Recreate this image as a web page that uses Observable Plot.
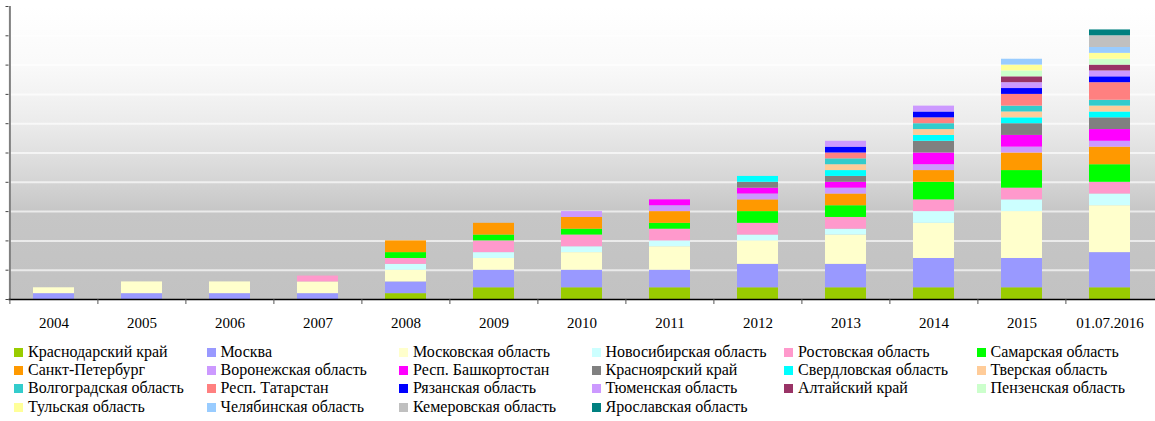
<!DOCTYPE html>
<html>
<head>
<meta charset="utf-8">
<script src="https://cdn.jsdelivr.net/npm/d3@7"></script>
<script src="https://cdn.jsdelivr.net/npm/@observablehq/plot@0.6"></script>
<style>
  html, body { margin: 0; padding: 0; background: #fff; }
  body { font-family: "Liberation Serif", "Times New Roman", serif; }
  #legend {
    width: 1155px;
    display: grid;
    grid-template-columns: repeat(6, 192.5px);
    grid-auto-rows: 18.4px;
    padding-top: 2.5px;
    box-sizing: border-box;
    font-size: 16px;
    line-height: 18.4px;
    color: #000;
  }
  .item { padding-left: 14px; white-space: nowrap; }
  .sw { display: inline-block; width: 9px; height: 9px; margin-right: 5px; }
</style>
</head>
<body>
<div id="chart"></div>
<div id="legend"></div>
<script>
// ---- data ----
const years = ["2004","2005","2006","2007","2008","2009","2010","2011","2012","2013","2014","2015","01.07.2016"];

const regions = [
  "Краснодарский край","Москва","Московская область","Новосибирская область","Ростовская область","Самарская область",
  "Санкт-Петербург","Воронежская область","Респ. Башкортостан","Красноярский край","Свердловская область","Тверская область",
  "Волгоградская область","Респ. Татарстан","Рязанская область","Тюменская область","Алтайский край","Пензенская область",
  "Тульская область","Челябинская область","Кемеровская область","Ярославская область"
];

const colors = [
  "#99cc00","#9999ff","#ffffcc","#ccffff","#ff99cc","#00ff00",
  "#ff9900","#cc99ff","#ff00ff","#808080","#00ffff","#ffcc99",
  "#33cccc","#ff8080","#0000ff","#cc99ff","#993366","#ccffcc",
  "#ffff99","#99ccff","#c0c0c0","#008080"
];

const krasnodar   = [0,0,0,0,1,2,2,2,2,2,2,2,2];
const moscow      = [1,1,1,1,2,3,3,3,4,4,5,5,6];
const moscowObl   = [1,2,2,2,2,2,3,4,4,5,6,8,8];
const novosibirsk = [0,0,0,0,1,1,1,1,1,1,2,2,2];
const rostov      = [0,0,0,1,1,2,2,2,2,2,2,2,2];
const samara      = [0,0,0,0,1,1,1,1,2,2,3,3,3];
const spb         = [0,0,0,0,2,2,2,2,2,2,2,3,3];
const voronezh    = [0,0,0,0,0,0,1,1,1,1,1,1,1];
const bashkir     = [0,0,0,0,0,0,0,1,1,1,2,2,2];
const krasnoyarsk = [0,0,0,0,0,0,0,0,1,1,2,2,2];
const sverdlovsk  = [0,0,0,0,0,0,0,0,1,1,1,1,1];
const tver        = [0,0,0,0,0,0,0,0,0,1,1,1,1];
const volgograd   = [0,0,0,0,0,0,0,0,0,1,1,1,1];
const tatarstan   = [0,0,0,0,0,0,0,0,0,1,1,2,3];
const ryazan      = [0,0,0,0,0,0,0,0,0,1,1,1,1];
const tyumen      = [0,0,0,0,0,0,0,0,0,1,1,1,1];
const altai       = [0,0,0,0,0,0,0,0,0,0,0,1,1];
const penza       = [0,0,0,0,0,0,0,0,0,0,0,1,1];
const tula        = [0,0,0,0,0,0,0,0,0,0,0,1,1];
const chelyabinsk = [0,0,0,0,0,0,0,0,0,0,0,1,1];
const kemerovo    = [0,0,0,0,0,0,0,0,0,0,0,0,2];
const yaroslavl   = [0,0,0,0,0,0,0,0,0,0,0,0,1];

const yTicks = [0,5,10,15,20,25,30,35,40,45,50];

const seriesValues = [krasnodar, moscow, moscowObl, novosibirsk, rostov, samara, spb, voronezh, bashkir,
  krasnoyarsk, sverdlovsk, tver, volgograd, tatarstan, ryazan, tyumen, altai, penza, tula, chelyabinsk, kemerovo, yaroslavl];

const data = regions.flatMap((r, i) => years.map((y, j) => ({region: r, year: y, value: seriesValues[i][j]})))
  .filter(d => d.value > 0);

// ---- layout ----
const W = 1155, H = 340, mL = 8.5, mR = 0, mT = 6, mB = 41;
const padInner = 0.535;
const step = (W - mL - mR) / years.length;

const chart = Plot.plot({
  width: W,
  height: H,
  marginLeft: mL,
  marginRight: mR,
  marginTop: mT,
  marginBottom: mB,
  style: {fontFamily: "'Liberation Serif', 'Times New Roman', serif", fontSize: "15px", color: "#000", background: "transparent", overflow: "visible"},
  x: {domain: years, paddingInner: padInner, paddingOuter: padInner / 2, label: null},
  y: {domain: [0, 50], label: null},
  color: {domain: regions, range: colors},
  marks: [
    Plot.frame({fill: "url(#bgGrad)", stroke: "none"}),
    Plot.ruleY(yTicks.slice(1), {stroke: "#ffffff", strokeOpacity: 0.65, strokeWidth: 2}),
    Plot.barY(data, {x: "year", y: "value", fill: "region", order: regions}),
    Plot.ruleX([years[0]], {dx: -step / 2, stroke: "#808080", strokeWidth: 2}),
    Plot.ruleY([0], {stroke: "#000", strokeWidth: 1.5}),
    Plot.axisY({ticks: yTicks, tickSize: 3, tickFormat: () => "", stroke: "#444"}),
    Plot.axisX({tickSize: 5, tickFormat: () => "", dx: -step / 2, stroke: "#555"}),
    Plot.axisX({tickSize: 0, tickPadding: 18, fill: "#000"})
  ]
});

// gradient background
const svg = d3.select(chart);
const defs = svg.insert("defs", ":first-child");
const grad = defs.append("linearGradient").attr("id", "bgGrad").attr("x1", 0).attr("y1", 0).attr("x2", 0).attr("y2", 1);
[
  [0, "#ffffff"], [0.19, "#fafafa"], [0.3, "#f3f3f3"], [0.4, "#ebebeb"],
  [0.5, "#e0e0e0"], [0.6, "#d4d4d4"], [0.7, "#c6c6c6"], [1, "#c2c2c2"]
].forEach(([o, c]) => grad.append("stop").attr("offset", o).attr("stop-color", c));

document.getElementById("chart").appendChild(chart);

// legend
const legend = d3.select("#legend");
regions.forEach((r, i) => {
  const it = legend.append("div").attr("class", "item");
  it.append("span").attr("class", "sw").style("background", colors[i]);
  it.append("span").text(r);
});
</script>
</body>
</html>
